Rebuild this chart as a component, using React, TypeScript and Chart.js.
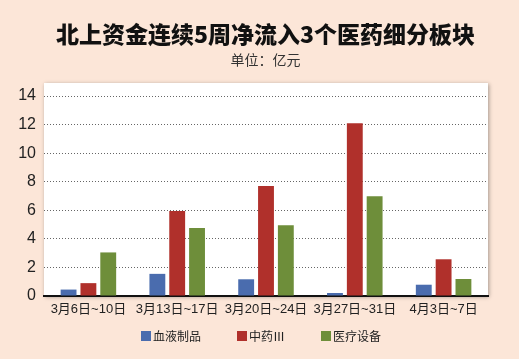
import React, { useEffect, useRef } from "react";
import { Chart, registerables } from "chart.js";

Chart.register(...registerables);

const categories = ["3月6日~10日", "3月13日~17日", "3月20日~24日", "3月27日~31日", "4月3日~7日"];
const seriesNames = ["血液制品", "中药Ⅲ", "医疗设备"];
const bloodProducts = [0.45, 1.55, 1.17, 0.21, 0.79];
const tcm = [0.9, 5.95, 7.7, 12.1, 2.57];
const medicalDevices = [3.05, 4.76, 4.95, 6.98, 1.19];
const colors = ["#4a6cae", "#b0302b", "#6e8e3a"];
const yMax = 14;
const yStep = 2;
const title = "北上资金连续5周净流入3个医药细分板块";
const subtitle = "单位：亿元";

const plotBg = {
  id: "plotBg",
  beforeDraw(chart: any) {
    const { ctx, chartArea } = chart;
    const { left, right, top, bottom } = chartArea;
    ctx.save();
    ctx.shadowColor = "rgba(0,0,0,0.35)";
    ctx.shadowBlur = 4;
    ctx.shadowOffsetX = 1;
    ctx.shadowOffsetY = 1;
    ctx.fillStyle = "#ffffff";
    ctx.fillRect(left, top - 13, right - left, bottom - top + 13);
    ctx.restore();
  },
};

export default function App() {
  const ref = useRef<HTMLCanvasElement>(null);
  useEffect(() => {
    const series = [bloodProducts, tcm, medicalDevices];
    const chart = new Chart(ref.current!, {
      type: "bar",
      data: {
        labels: categories,
        datasets: series.map((d, i) => ({
          label: seriesNames[i],
          data: d,
          backgroundColor: colors[i],
          borderWidth: 0,
          categoryPercentage: 0.67,
          barPercentage: 0.8,
        })),
      },
      options: {
        animation: false,
        responsive: false,
        layout: { padding: { top: 96, right: 31, left: 0, bottom: 0 } },
        plugins: { legend: { display: false }, tooltip: { enabled: false }, title: { display: false } },
        scales: {
          x: {
            grid: { display: false, drawTicks: false },
            border: { display: true, color: "#111", width: 2 },
            ticks: {
              padding: 6,
              color: "#222",
              font: { family: "'Liberation Sans', 'Noto Sans CJK SC', sans-serif", size: 13 },
              maxRotation: 0,
              autoSkip: false,
            },
            afterFit: (s: any) => {
              s.height = 63;
            },
          },
          y: {
            min: 0,
            max: yMax,
            ticks: {
              stepSize: yStep,
              padding: 8,
              color: "#222",
              font: { family: "'Liberation Sans', Arial, sans-serif", size: 16 },
            },
            grid: {
              drawTicks: false,
              color: (c: any) => (c.tick && c.tick.value === 0 ? "rgba(0,0,0,0)" : "#666"),
              lineWidth: 1,
            },
            border: { display: false, dash: [1, 2] },
            afterFit: (s: any) => {
              s.width = 44;
            },
          },
        },
      },
      plugins: [plotBg],
    });
    return () => chart.destroy();
  }, []);

  return (
    <div
      style={{
        position: "absolute",
        left: 0,
        top: 0,
        width: 519,
        height: 359,
        background: "#fce6d8",
        overflow: "hidden",
        fontFamily: "'Noto Sans CJK SC', sans-serif",
      }}
    >
      <canvas ref={ref} width={519} height={359} style={{ position: "absolute", left: 0, top: 0 }} />
      <div
        style={{
          position: "absolute",
          left: 12,
          width: 507,
          top: 17,
          textAlign: "center",
          fontSize: 23,
          fontWeight: 900,
          color: "#111",
          lineHeight: "32px",
          whiteSpace: "nowrap",
        }}
      >
        {title}
      </div>
      <div
        style={{
          position: "absolute",
          left: 12,
          width: 507,
          top: 50,
          textAlign: "center",
          fontSize: 14,
          color: "#333",
          lineHeight: "18px",
        }}
      >
        {subtitle}
      </div>
      <div
        style={{
          position: "absolute",
          left: 141,
          top: 328,
          display: "flex",
          alignItems: "center",
          fontSize: 12,
          color: "#222",
          lineHeight: "16px",
          whiteSpace: "nowrap",
        }}
      >
        {seriesNames.map((n, i) => (
          <div key={n} style={{ display: "flex", alignItems: "center", marginRight: 36 }}>
            <span style={{ display: "inline-block", width: 10, height: 10, background: colors[i], marginRight: 2 }} />
            <span>{n}</span>
          </div>
        ))}
      </div>
    </div>
  );
}
